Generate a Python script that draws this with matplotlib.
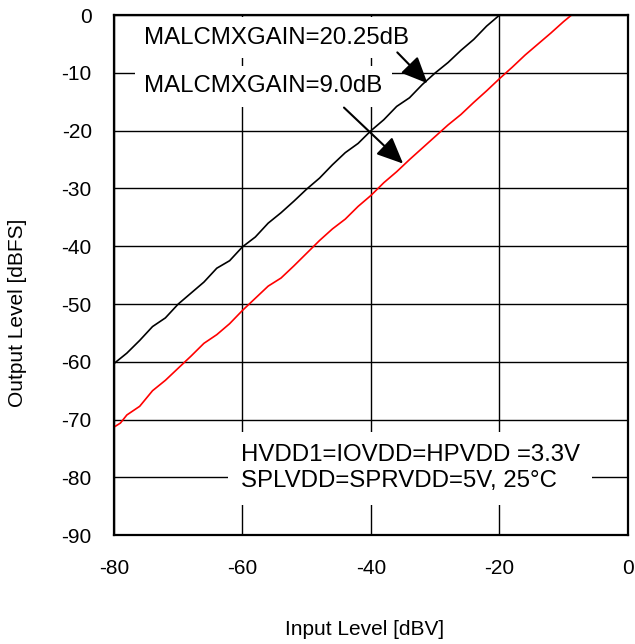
import matplotlib.pyplot as plt

plt.rcParams['font.family'] = ['Liberation Sans', 'DejaVu Sans']

# MALCMXGAIN = 20.25 dB
x_hi = [-80, -78, -76, -74, -72, -70, -68, -66, -64, -62, -60, -58, -56, -54, -52, -50,
        -48, -46, -44, -42, -40, -38, -36, -34, -32, -30, -28, -26, -24, -22, -20]
y_hi = [-60.3, -58.5, -56.3, -53.9, -52.4, -50.0, -48.1, -46.2, -43.8, -42.5, -40.1,
        -38.4, -36.0, -34.2, -32.2, -30.1, -28.2, -25.9, -23.8, -22.2, -20.0, -18.1,
        -15.8, -14.3, -12.0, -10.0, -8.2, -6.1, -4.2, -1.9, 0.0]

# MALCMXGAIN = 9.0 dB
x_lo = [-80, -79, -78, -76, -74, -72, -70, -68, -66, -64, -62, -60, -58, -56, -54, -52,
        -50, -48, -46, -44, -42, -40, -38, -36, -34, -32, -30, -28, -26, -24, -22, -20,
        -18, -16, -14, -12, -10, -8.8]
y_lo = [-71.3, -70.6, -69.2, -67.7, -65.0, -63.2, -61.1, -59.0, -56.8, -55.3, -53.4,
        -51.1, -49.0, -46.9, -45.5, -43.4, -41.2, -39.0, -37.0, -35.3, -33.1, -31.2,
        -29.0, -27.1, -25.0, -23.0, -21.0, -19.0, -17.2, -15.1, -13.1, -11.0, -9.0,
        -6.9, -5.0, -3.1, -1.1, 0.0]

x_ticks = [-80, -60, -40, -20, 0]
y_ticks = [-90, -80, -70, -60, -50, -40, -30, -20, -10, 0]

fig = plt.figure(figsize=(6.35, 6.44), dpi=100)
ax = fig.add_axes([0.1795, 0.169, 0.8094, 0.8075])

ax.plot(x_hi, y_hi, color='black', lw=1.2, zorder=3)
ax.plot(x_lo, y_lo, color='red', lw=1.2, zorder=3)

ax.set_xlim(-80, 0)
ax.set_ylim(-90, 0)
ax.set_xticks(x_ticks)
ax.set_yticks(y_ticks)
ax.set_xticklabels([str(v) for v in x_ticks])
ax.set_yticklabels([str(v) for v in y_ticks])
ax.tick_params(length=0, labelsize=15, pad=0)
ax.tick_params(axis='x', pad=17)
ax.tick_params(axis='y', pad=16)
ax.grid(True, color='black', lw=1.0, zorder=1)
ax.set_axisbelow(True)
for s in ax.spines.values():
    s.set_linewidth(1.6)
    s.set_zorder(5)

ax.set_xlabel('Input Level [dBV]', fontsize=15)
ax.set_ylabel('Output Level [dBFS]', fontsize=15)
ax.xaxis.set_label_coords(0.488, -0.163)
ax.yaxis.set_label_coords(-0.169, 0.427)

box = dict(fc='white', ec='none', pad=7)
ax.text(-75.3, -3.9, 'MALCMXGAIN=20.25dB', fontsize=17.3, va='center', ha='left',
        bbox=box, zorder=2)
ax.text(-75.3, -12.3, 'MALCMXGAIN=9.0dB', fontsize=17.3, va='center', ha='left',
        bbox=box, zorder=2)
ax.text(-60.3, -78.4, 'HVDD1=IOVDD=HPVDD =3.3V\nSPLVDD=SPRVDD=5V, 25\u00b0C',
        fontsize=17.3, va='center', ha='left', linespacing=1.25,
        bbox=dict(fc='white', ec='none', pad=9), zorder=2)

arrow = dict(arrowstyle='-|>,head_length=0.9,head_width=0.4', color='black',
             lw=1.5, mutation_scale=18, shrinkA=0, shrinkB=0)
ax.annotate('', xy=(-31.2, -11.8), xytext=(-35.9, -6.45), arrowprops=arrow, zorder=4)
ax.annotate('', xy=(-35.0, -25.7), xytext=(-44.2, -16.0), arrowprops=arrow, zorder=4)

fig.savefig('out.png', dpi=100)
